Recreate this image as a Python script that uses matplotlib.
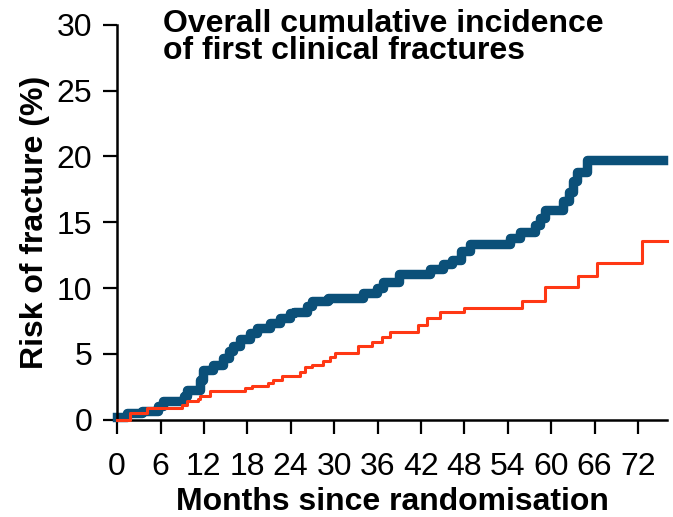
import matplotlib.pyplot as plt

plt.rcParams['font.family'] = ['Liberation Sans', 'DejaVu Sans']

# Cumulative incidence step curves (months, % with fracture)
blue_months = [0, 1.4, 3.4, 5.7, 6.4, 9.2, 9.7, 11.5, 11.9, 13.3, 14.6, 15.5, 16, 17,
               18.4, 19.3, 21.1, 22.5, 23.9, 24.5, 26.2, 27, 29.1, 34, 35.9, 36.7, 39,
               43.2, 45, 46.3, 47.6, 48.8, 54.3, 55.7, 57.7, 58.4, 59.1, 61.6, 62.5,
               63, 63.5, 64.9, 75.5]
blue_risk = [0.25, 0.5, 0.7, 1.05, 1.4, 1.8, 2.3, 3.0, 3.8, 4.2, 4.7, 5.2, 5.6, 6.1,
             6.6, 7.0, 7.35, 7.7, 8.1, 8.2, 8.65, 9.0, 9.25, 9.6, 10.0, 10.5, 11.1,
             11.45, 11.8, 12.15, 12.8, 13.35, 13.8, 14.3, 14.8, 15.3, 15.95, 16.6, 17.3,
             18.1, 18.85, 19.7, 19.7]

red_months = [0, 1.8, 4.1, 9, 9.7, 11.2, 11.5, 12.9, 17.7, 18.6, 20.9, 21.5, 22.8, 25.3,
              26, 27, 28.5, 29.4, 30.1, 33.3, 35.2, 36.6, 37.7, 41.6, 42.8, 44.6, 48,
              55.9, 59.1, 63.7, 66.4, 72.5, 76]
red_risk = [0, 0.5, 0.9, 1.15, 1.4, 1.6, 1.8, 2.15, 2.4, 2.6, 2.8, 3.0, 3.35, 3.6,
            4.0, 4.2, 4.5, 4.8, 5.1, 5.6, 5.9, 6.3, 6.7, 7.2, 7.7, 8.15, 8.5,
            9.0, 10.1, 10.9, 11.9, 13.6, 13.6]

x_ticks = list(range(0, 73, 6))
y_ticks = [0, 5, 10, 15, 20, 25, 30]

fig = plt.figure(figsize=(6.73, 5.17), dpi=100)
ax = fig.add_axes([0.174, 0.188, 0.817, 0.764])

ax.step(red_months, red_risk, where='post', color='#ff3814', lw=2.2, clip_on=False, zorder=3)
ax.step(blue_months, blue_risk, where='post', color='#0b5079', lw=6.8, clip_on=False, zorder=2)

ax.set_xlim(0, 76)
ax.set_ylim(0, 30)
ax.set_xticks(x_ticks)
ax.set_yticks(y_ticks)

for side in ('top', 'right'):
    ax.spines[side].set_visible(False)
for side in ('left', 'bottom'):
    ax.spines[side].set_linewidth(1.8)

ax.tick_params(axis='both', direction='out', length=10, width=1.6, labelsize=23)
ax.tick_params(axis='x', pad=13)
ax.tick_params(axis='y', pad=8)

ax.set_xlabel('Months since randomisation', fontsize=23, fontweight='bold', labelpad=4)
ax.set_ylabel('Risk of fracture (%)', fontsize=23, fontweight='bold', labelpad=5)

ax.text(0.084, 1.04, 'Overall cumulative incidence\nof first clinical fractures',
        transform=ax.transAxes, ha='left', va='top', fontsize=23, fontweight='bold',
        linespacing=0.85)

fig.savefig('out.png', dpi=100)
